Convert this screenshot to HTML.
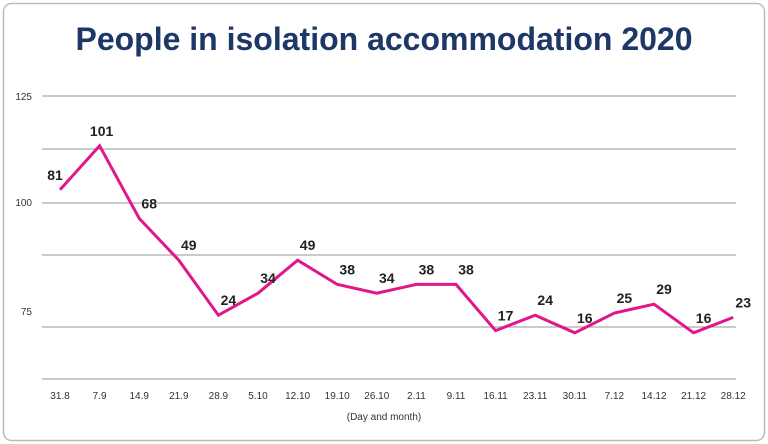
<!DOCTYPE html>
<html><head><meta charset="utf-8"><style>
body{margin:0;background:#fff;}
svg{display:block;font-family:"Liberation Sans",Arial,sans-serif;}
</style></head><body>
<svg id="chart" width="768" height="444" viewBox="0 0 768 444">
<rect x="3.5" y="3.5" width="761" height="437" rx="8" fill="#fff" stroke="#bbb" stroke-width="1.5"/>
<text x="384" y="50" text-anchor="middle" font-size="32" font-weight="bold" fill="#1d3766">People in isolation accommodation 2020</text>
<g id="grid"></g>
<g id="xlabels"></g>
<path id="line" fill="none" stroke="#e0168c" stroke-width="3" stroke-linejoin="miter"/>
<g id="vlabels"></g>
<text x="384" y="420" text-anchor="middle" font-size="10" fill="#333">(Day and month)</text>
</svg>
<script>
const categories=["31.8","7.9","14.9","21.9","28.9","5.10","12.10","19.10","26.10","2.11","9.11","16.11","23.11","30.11","7.12","14.12","21.12","28.12"];
const values=[81,101,68,49,24,34,49,38,34,38,38,17,24,16,25,29,16,23];
const gridYs=[96,149,203,255,327,379];
const yTickLabels=["125","100","75"];
const yTickPos=[97,203,312];
const ns="http://www.w3.org/2000/svg";
function x(i){return 60+i*39.6;}
function y(v){return 368-2.2*v;}
function mk(t,a,p){const e=document.createElementNS(ns,t);for(const k in a)e.setAttribute(k,a[k]);p.appendChild(e);return e;}
const grid=document.getElementById('grid');
gridYs.forEach(gy=>{
 const l=mk('line',{x1:42,x2:736,y1:gy,y2:gy,stroke:'#aaa','stroke-width':1.3},grid);
 
 
});
yTickLabels.forEach((t,i)=>{
 const e=mk('text',{x:32,y:yTickPos[i]+3,'text-anchor':'end','font-size':10,fill:'#333'},grid);
 e.textContent=t;
 
 
});
const xl=document.getElementById('xlabels');
categories.forEach((c,i)=>{
 const e=mk('text',{x:x(i),y:399,'text-anchor':'middle','font-size':10,fill:'#333'},xl);
 e.textContent=c;
 
 
});
document.getElementById('line').setAttribute('d',values.map((v,i)=>(i?'L':'M')+x(i)+','+y(v)).join(''));
const vl=document.getElementById('vlabels');
values.forEach((v,i)=>{
 const dx=i===0?-5:(i===1?2:10);
 const e=mk('text',{x:x(i)+dx,y:y(v)-10,'text-anchor':'middle','font-size':14,'font-weight':'bold',fill:'#222'},vl);
 e.textContent=v;
 
 
});
</script>
</body></html>
